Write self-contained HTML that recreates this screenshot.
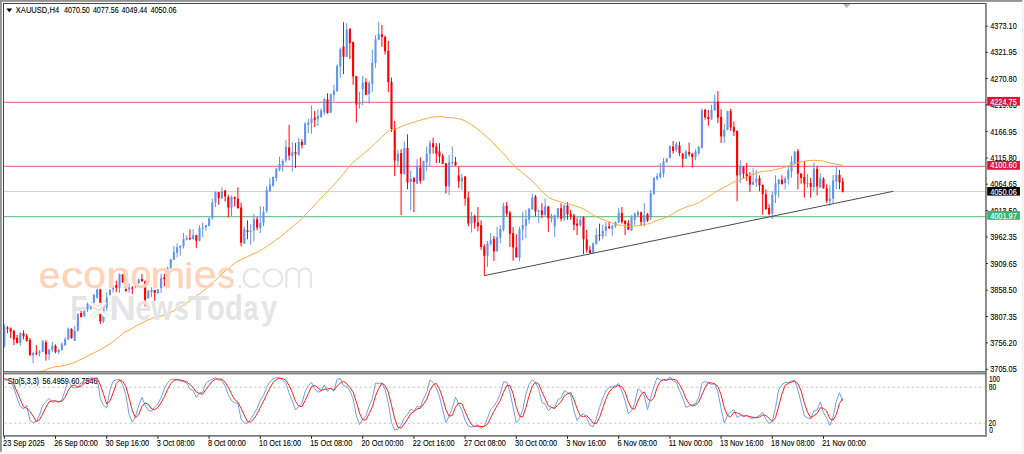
<!DOCTYPE html>
<html><head><meta charset="utf-8"><title>XAUUSD,H4</title>
<style>
html,body{margin:0;padding:0;background:#fff;}
body{width:1024px;height:454px;overflow:hidden;position:relative;font-family:"Liberation Sans",sans-serif;}
svg{position:absolute;left:0;top:0;}
text{font-family:"Liberation Sans",sans-serif;}
</style></head><body>
<svg width="1024" height="454" viewBox="0 0 1024 454">
<rect x="0" y="0" width="1024" height="454" fill="#fff"/>
<!-- window frame -->
<rect x="0" y="0" width="1022.5" height="1.9" fill="#949494"/>
<rect x="0" y="0" width="1.9" height="452.4" fill="#949494"/>
<rect x="1022.2" y="0" width="1.1" height="452.7" fill="#ebebeb"/>
<rect x="0" y="451.7" width="1023.3" height="1" fill="#eeeeee"/>
<defs>
<clipPath id="mainclip"><rect x="3.5" y="3.5" width="982" height="368"/></clipPath>
<clipPath id="subclip"><rect x="3.5" y="374" width="982" height="61.5"/></clipPath>
</defs>
<g clip-path="url(#mainclip)">
<line x1="3.5" y1="102.3" x2="985.5" y2="102.3" stroke="#ea7b92" stroke-width="1.25"/>
<line x1="3.5" y1="166.3" x2="985.5" y2="166.3" stroke="#ea7b92" stroke-width="1.25"/>
<line x1="3.5" y1="216.6" x2="985.5" y2="216.6" stroke="#72c592" stroke-width="1.25"/>
<line x1="3.5" y1="191.5" x2="985.5" y2="191.5" stroke="#d2d2d2" stroke-width="1.1"/>
<rect x="3.8" y="323.95" width="1" height="23.95" fill="#6495ed"/>
<rect x="3.25" y="326.07" width="2.1" height="19.73" fill="#6495ed"/>
<rect x="7" y="326.07" width="1" height="7.05" fill="#ff0000"/>
<rect x="6.45" y="327.48" width="2.1" height="1.41" fill="#ff0000"/>
<rect x="10.2" y="327.48" width="1" height="10.57" fill="#ff0000"/>
<rect x="9.65" y="328.6" width="2.1" height="3.1" fill="#ff0000"/>
<rect x="13.4" y="329.59" width="1" height="15.5" fill="#ff0000"/>
<rect x="12.85" y="331" width="2.1" height="8.45" fill="#ff0000"/>
<rect x="16.6" y="334.94" width="1" height="8.74" fill="#ff0000"/>
<rect x="16.05" y="337.76" width="2.1" height="5.21" fill="#ff0000"/>
<rect x="19.8" y="332.13" width="1" height="13.67" fill="#6495ed"/>
<rect x="19.25" y="333.11" width="2.1" height="9.86" fill="#6495ed"/>
<rect x="23" y="330.29" width="1" height="9.16" fill="#ff0000"/>
<rect x="22.45" y="333.11" width="2.1" height="3.24" fill="#ff0000"/>
<rect x="26.2" y="333.82" width="1" height="7.75" fill="#ff0000"/>
<rect x="25.65" y="335.93" width="2.1" height="4.93" fill="#ff0000"/>
<rect x="29.4" y="338.04" width="1" height="17.61" fill="#ff0000"/>
<rect x="28.85" y="339.88" width="2.1" height="15.36" fill="#ff0000"/>
<rect x="32.6" y="352.13" width="1" height="11.27" fill="#6495ed"/>
<rect x="32.05" y="352.84" width="2.1" height="2.4" fill="#6495ed"/>
<rect x="35.8" y="345.09" width="1" height="10.15" fill="#ff0000"/>
<rect x="35.25" y="352.84" width="2.1" height="0.99" fill="#ff0000"/>
<rect x="39" y="350.02" width="1" height="6.34" fill="#6495ed"/>
<rect x="38.45" y="351.43" width="2.1" height="2.11" fill="#6495ed"/>
<rect x="42.2" y="340.16" width="1" height="11.98" fill="#6495ed"/>
<rect x="41.65" y="341.29" width="2.1" height="10.57" fill="#6495ed"/>
<rect x="45.4" y="340.16" width="1" height="20.43" fill="#ff0000"/>
<rect x="44.85" y="342.27" width="2.1" height="11.98" fill="#ff0000"/>
<rect x="48.6" y="348.61" width="1" height="11.27" fill="#6495ed"/>
<rect x="48.05" y="349.6" width="2.1" height="4.65" fill="#6495ed"/>
<rect x="51.8" y="341.99" width="1" height="10.15" fill="#6495ed"/>
<rect x="51.25" y="345.79" width="2.1" height="4.23" fill="#6495ed"/>
<rect x="55" y="344.38" width="1" height="8.88" fill="#ff0000"/>
<rect x="54.45" y="345.79" width="2.1" height="6.34" fill="#ff0000"/>
<rect x="58.2" y="348.61" width="1" height="5.64" fill="#6495ed"/>
<rect x="57.65" y="350.02" width="2.1" height="2.11" fill="#6495ed"/>
<rect x="61.4" y="342.27" width="1" height="8.45" fill="#6495ed"/>
<rect x="60.85" y="344.38" width="2.1" height="5.64" fill="#6495ed"/>
<rect x="64.6" y="337.34" width="1" height="8.45" fill="#6495ed"/>
<rect x="64.05" y="339.17" width="2.1" height="6.2" fill="#6495ed"/>
<rect x="67.8" y="327.48" width="1" height="12.68" fill="#6495ed"/>
<rect x="67.25" y="328.89" width="2.1" height="10.57" fill="#6495ed"/>
<rect x="71" y="328.18" width="1" height="10.57" fill="#ff0000"/>
<rect x="70.45" y="328.89" width="2.1" height="9.16" fill="#ff0000"/>
<rect x="74.2" y="325.9" width="1" height="14.9" fill="#6495ed"/>
<rect x="73.65" y="330.9" width="2.1" height="9.9" fill="#6495ed"/>
<rect x="77.4" y="313.08" width="1" height="18.72" fill="#6495ed"/>
<rect x="76.85" y="314.19" width="2.1" height="16.52" fill="#6495ed"/>
<rect x="80.6" y="310.88" width="1" height="6.61" fill="#ff0000"/>
<rect x="80.05" y="313.08" width="2.1" height="3.85" fill="#ff0000"/>
<rect x="83.8" y="309.78" width="1" height="7.16" fill="#6495ed"/>
<rect x="83.25" y="310.88" width="2.1" height="5.51" fill="#6495ed"/>
<rect x="87" y="302.62" width="1" height="9.36" fill="#6495ed"/>
<rect x="86.45" y="303.72" width="2.1" height="6.06" fill="#6495ed"/>
<rect x="90.2" y="304.27" width="1" height="5.51" fill="#6495ed"/>
<rect x="89.65" y="305.37" width="2.1" height="3.3" fill="#6495ed"/>
<rect x="93.4" y="293.81" width="1" height="9.91" fill="#6495ed"/>
<rect x="92.85" y="294.91" width="2.1" height="7.71" fill="#6495ed"/>
<rect x="96.6" y="288.85" width="1" height="9.91" fill="#6495ed"/>
<rect x="96.05" y="289.41" width="2.1" height="8.26" fill="#6495ed"/>
<rect x="99.8" y="288.85" width="1" height="35.24" fill="#ff0000"/>
<rect x="99.25" y="289.41" width="2.1" height="31.94" fill="#ff0000"/>
<rect x="103" y="304.34" width="1" height="18.61" fill="#6495ed"/>
<rect x="102.45" y="305.44" width="2.1" height="15.53" fill="#6495ed"/>
<rect x="106.2" y="292.23" width="1" height="18.72" fill="#6495ed"/>
<rect x="105.65" y="297.74" width="2.1" height="9.91" fill="#6495ed"/>
<rect x="109.4" y="288.93" width="1" height="6.61" fill="#6495ed"/>
<rect x="108.85" y="290.03" width="2.1" height="4.96" fill="#6495ed"/>
<rect x="112.6" y="285.07" width="1" height="7.71" fill="#6495ed"/>
<rect x="112.05" y="286.17" width="2.1" height="3.3" fill="#6495ed"/>
<rect x="115.8" y="280.67" width="1" height="11.56" fill="#ff0000"/>
<rect x="115.25" y="285.07" width="2.1" height="2.75" fill="#ff0000"/>
<rect x="119" y="273.51" width="1" height="19.27" fill="#6495ed"/>
<rect x="118.45" y="274.06" width="2.1" height="13.77" fill="#6495ed"/>
<rect x="122.2" y="274.06" width="1" height="8.81" fill="#ff0000"/>
<rect x="121.65" y="274.61" width="2.1" height="7.71" fill="#ff0000"/>
<rect x="125.4" y="288.37" width="1" height="3.85" fill="#ff0000"/>
<rect x="124.85" y="288.93" width="2.1" height="1.65" fill="#ff0000"/>
<rect x="128.6" y="283.42" width="1" height="9.36" fill="#6495ed"/>
<rect x="128.05" y="287.27" width="2.1" height="2.2" fill="#6495ed"/>
<rect x="131.8" y="286.17" width="1" height="7.71" fill="#ff0000"/>
<rect x="131.25" y="287.6" width="2.1" height="1.1" fill="#ff0000"/>
<rect x="135" y="285.62" width="1" height="2.2" fill="#6495ed"/>
<rect x="134.45" y="286.17" width="2.1" height="1.1" fill="#6495ed"/>
<rect x="138.2" y="278.46" width="1" height="5.18" fill="#6495ed"/>
<rect x="137.65" y="279.56" width="2.1" height="3.85" fill="#6495ed"/>
<rect x="141.4" y="274.06" width="1" height="7.71" fill="#ff0000"/>
<rect x="140.85" y="279.01" width="2.1" height="2.2" fill="#ff0000"/>
<rect x="144.6" y="280.53" width="1" height="25.92" fill="#ff0000"/>
<rect x="144.05" y="281.32" width="2.1" height="18.51" fill="#ff0000"/>
<rect x="147.8" y="289.92" width="1" height="8.6" fill="#6495ed"/>
<rect x="147.25" y="290.91" width="2.1" height="7.27" fill="#6495ed"/>
<rect x="151" y="287.27" width="1" height="9.59" fill="#6495ed"/>
<rect x="150.45" y="289.92" width="2.1" height="2.31" fill="#6495ed"/>
<rect x="154.2" y="289.92" width="1" height="10.91" fill="#ff0000"/>
<rect x="153.65" y="290.05" width="2.1" height="2.84" fill="#ff0000"/>
<rect x="157.4" y="288.93" width="1" height="5.29" fill="#6495ed"/>
<rect x="156.85" y="289.26" width="2.1" height="3.64" fill="#6495ed"/>
<rect x="160.6" y="273.68" width="1" height="19.27" fill="#6495ed"/>
<rect x="160.05" y="278.08" width="2.1" height="9.91" fill="#6495ed"/>
<rect x="163.8" y="273.68" width="1" height="12.67" fill="#ff0000"/>
<rect x="163.25" y="277.53" width="2.1" height="1.65" fill="#ff0000"/>
<rect x="167" y="266.52" width="1" height="12.11" fill="#6495ed"/>
<rect x="166.45" y="268.17" width="2.1" height="9.36" fill="#6495ed"/>
<rect x="170.2" y="258.81" width="1" height="9.91" fill="#6495ed"/>
<rect x="169.65" y="259.36" width="2.1" height="8.81" fill="#6495ed"/>
<rect x="173.4" y="245.9" width="1" height="14.02" fill="#6495ed"/>
<rect x="172.85" y="251.85" width="2.1" height="7.93" fill="#6495ed"/>
<rect x="176.6" y="243.26" width="1" height="14.21" fill="#6495ed"/>
<rect x="176.05" y="247.22" width="2.1" height="5.62" fill="#6495ed"/>
<rect x="179.8" y="245.24" width="1" height="10.58" fill="#6495ed"/>
<rect x="179.25" y="245.9" width="2.1" height="1.98" fill="#6495ed"/>
<rect x="183" y="233.04" width="1" height="15.42" fill="#6495ed"/>
<rect x="182.45" y="239.1" width="2.1" height="7.16" fill="#6495ed"/>
<rect x="186.2" y="235.79" width="1" height="4.74" fill="#6495ed"/>
<rect x="185.65" y="238" width="2.1" height="1.65" fill="#6495ed"/>
<rect x="189.4" y="229.19" width="1" height="11.01" fill="#ff0000"/>
<rect x="188.85" y="238" width="2.1" height="1.1" fill="#ff0000"/>
<rect x="192.6" y="229.19" width="1" height="10.46" fill="#6495ed"/>
<rect x="192.05" y="235.24" width="2.1" height="3.85" fill="#6495ed"/>
<rect x="195.8" y="234.69" width="1" height="13.22" fill="#ff0000"/>
<rect x="195.25" y="235.24" width="2.1" height="5.51" fill="#ff0000"/>
<rect x="199" y="225.33" width="1" height="15.97" fill="#6495ed"/>
<rect x="198.45" y="228.08" width="2.1" height="12.67" fill="#6495ed"/>
<rect x="202.2" y="222.58" width="1" height="14.87" fill="#6495ed"/>
<rect x="201.65" y="227.53" width="2.1" height="1.1" fill="#6495ed"/>
<rect x="205.4" y="224.78" width="1" height="6.06" fill="#6495ed"/>
<rect x="204.85" y="225.11" width="2.1" height="2.42" fill="#6495ed"/>
<rect x="208.6" y="217.62" width="1" height="8.81" fill="#6495ed"/>
<rect x="208.05" y="218.17" width="2.1" height="7.71" fill="#6495ed"/>
<rect x="211.8" y="198.72" width="1" height="20.93" fill="#6495ed"/>
<rect x="211.25" y="202.58" width="2.1" height="15.42" fill="#6495ed"/>
<rect x="215" y="191.56" width="1" height="15.42" fill="#6495ed"/>
<rect x="214.45" y="192.11" width="2.1" height="10.46" fill="#6495ed"/>
<rect x="218.2" y="192.11" width="1" height="12.67" fill="#ff0000"/>
<rect x="217.65" y="192.11" width="2.1" height="6.06" fill="#ff0000"/>
<rect x="221.4" y="187.16" width="1" height="12.11" fill="#6495ed"/>
<rect x="220.85" y="191.56" width="2.1" height="6.61" fill="#6495ed"/>
<rect x="224.6" y="189.91" width="1" height="11.56" fill="#ff0000"/>
<rect x="224.05" y="190.46" width="2.1" height="6.06" fill="#ff0000"/>
<rect x="227.8" y="194.87" width="1" height="22.58" fill="#ff0000"/>
<rect x="227.25" y="197.07" width="2.1" height="10.46" fill="#ff0000"/>
<rect x="231" y="195.42" width="1" height="20.93" fill="#6495ed"/>
<rect x="230.45" y="197.07" width="2.1" height="10.46" fill="#6495ed"/>
<rect x="234.2" y="196.52" width="1" height="9.91" fill="#ff0000"/>
<rect x="233.65" y="197.07" width="2.1" height="1.65" fill="#ff0000"/>
<rect x="237.4" y="187.16" width="1" height="21.48" fill="#ff0000"/>
<rect x="236.85" y="198.72" width="2.1" height="9.36" fill="#ff0000"/>
<rect x="240.6" y="202.71" width="1" height="43.72" fill="#ff0000"/>
<rect x="240.05" y="207.67" width="2.1" height="35.13" fill="#ff0000"/>
<rect x="243.8" y="226.39" width="1" height="17.62" fill="#6495ed"/>
<rect x="243.25" y="229.14" width="2.1" height="14.32" fill="#6495ed"/>
<rect x="247" y="220.33" width="1" height="18.83" fill="#ff0000"/>
<rect x="246.45" y="230.24" width="2.1" height="1.65" fill="#ff0000"/>
<rect x="250.2" y="224.19" width="1" height="20.48" fill="#6495ed"/>
<rect x="249.65" y="230.79" width="2.1" height="1.1" fill="#6495ed"/>
<rect x="253.4" y="213.72" width="1" height="27.53" fill="#6495ed"/>
<rect x="252.85" y="219.23" width="2.1" height="11.56" fill="#6495ed"/>
<rect x="256.6" y="217.03" width="1" height="13.22" fill="#ff0000"/>
<rect x="256.05" y="219.23" width="2.1" height="8.26" fill="#ff0000"/>
<rect x="259.8" y="206.01" width="1" height="26.98" fill="#6495ed"/>
<rect x="259.25" y="223.08" width="2.1" height="4.96" fill="#6495ed"/>
<rect x="263" y="206.56" width="1" height="19.82" fill="#6495ed"/>
<rect x="262.45" y="212.07" width="2.1" height="11.01" fill="#6495ed"/>
<rect x="266.2" y="186.3" width="1" height="26.87" fill="#6495ed"/>
<rect x="265.65" y="190.15" width="2.1" height="20.81" fill="#6495ed"/>
<rect x="269.4" y="178.04" width="1" height="13.44" fill="#6495ed"/>
<rect x="268.85" y="184.65" width="2.1" height="6.61" fill="#6495ed"/>
<rect x="272.6" y="176.39" width="1" height="10.46" fill="#6495ed"/>
<rect x="272.05" y="176.94" width="2.1" height="8.81" fill="#6495ed"/>
<rect x="275.8" y="168.13" width="1" height="13.22" fill="#6495ed"/>
<rect x="275.25" y="168.68" width="2.1" height="9.36" fill="#6495ed"/>
<rect x="279" y="156.56" width="1" height="14.87" fill="#6495ed"/>
<rect x="278.45" y="164.27" width="2.1" height="5.51" fill="#6495ed"/>
<rect x="282.2" y="159.32" width="1" height="12.11" fill="#6495ed"/>
<rect x="281.65" y="160.97" width="2.1" height="4.41" fill="#6495ed"/>
<rect x="285.4" y="140.2" width="1" height="22.4" fill="#6495ed"/>
<rect x="284.85" y="146.8" width="2.1" height="13.6" fill="#6495ed"/>
<rect x="288.6" y="124.8" width="1" height="35.6" fill="#ff0000"/>
<rect x="288.05" y="147.4" width="2.1" height="8.1" fill="#ff0000"/>
<rect x="291.8" y="142.4" width="1" height="29" fill="#6495ed"/>
<rect x="291.25" y="152.2" width="2.1" height="3.8" fill="#6495ed"/>
<rect x="295" y="143" width="1" height="25.1" fill="#ff0000"/>
<rect x="294.45" y="152.2" width="2.1" height="1.6" fill="#ff0000"/>
<rect x="298.2" y="138" width="1" height="17.5" fill="#6495ed"/>
<rect x="297.65" y="141.9" width="2.1" height="13" fill="#6495ed"/>
<rect x="301.4" y="139.1" width="1" height="9.4" fill="#ff0000"/>
<rect x="300.85" y="141.9" width="2.1" height="3.3" fill="#ff0000"/>
<rect x="304.6" y="122.03" width="1" height="23.13" fill="#6495ed"/>
<rect x="304.05" y="123.68" width="2.1" height="20.93" fill="#6495ed"/>
<rect x="307.8" y="118.72" width="1" height="14.32" fill="#6495ed"/>
<rect x="307.25" y="122.58" width="2.1" height="2.2" fill="#6495ed"/>
<rect x="311" y="105.51" width="1" height="28.08" fill="#6495ed"/>
<rect x="310.45" y="118.72" width="2.1" height="4.41" fill="#6495ed"/>
<rect x="314.2" y="111.01" width="1" height="15.97" fill="#ff0000"/>
<rect x="313.65" y="117.62" width="2.1" height="2.2" fill="#ff0000"/>
<rect x="317.4" y="109.36" width="1" height="16.52" fill="#6495ed"/>
<rect x="316.85" y="115.97" width="2.1" height="3.3" fill="#6495ed"/>
<rect x="320.6" y="108.26" width="1" height="9.36" fill="#6495ed"/>
<rect x="320.05" y="110.46" width="2.1" height="6.61" fill="#6495ed"/>
<rect x="323.8" y="97.67" width="1" height="17.07" fill="#6495ed"/>
<rect x="323.25" y="99.32" width="2.1" height="13.22" fill="#6495ed"/>
<rect x="327" y="93.26" width="1" height="20.37" fill="#ff0000"/>
<rect x="326.45" y="99.32" width="2.1" height="13.77" fill="#ff0000"/>
<rect x="330.2" y="93.26" width="1" height="19.82" fill="#6495ed"/>
<rect x="329.65" y="94.36" width="2.1" height="18.17" fill="#6495ed"/>
<rect x="333.4" y="84.67" width="1" height="16.3" fill="#6495ed"/>
<rect x="332.85" y="90.51" width="2.1" height="4.41" fill="#6495ed"/>
<rect x="336.6" y="64.32" width="1" height="27.53" fill="#6495ed"/>
<rect x="336.05" y="65.97" width="2.1" height="25.33" fill="#6495ed"/>
<rect x="339.8" y="47.49" width="1" height="30.07" fill="#6495ed"/>
<rect x="339.25" y="49.14" width="2.1" height="17.4" fill="#6495ed"/>
<rect x="343" y="22.16" width="1" height="51.87" fill="#ff0000"/>
<rect x="342.45" y="46.39" width="2.1" height="10.46" fill="#ff0000"/>
<rect x="346.2" y="23.26" width="1" height="33.59" fill="#6495ed"/>
<rect x="345.65" y="29.87" width="2.1" height="26.98" fill="#6495ed"/>
<rect x="349.4" y="28.22" width="1" height="30.84" fill="#ff0000"/>
<rect x="348.85" y="28.77" width="2.1" height="14.32" fill="#ff0000"/>
<rect x="352.6" y="41.5" width="1" height="43.2" fill="#ff0000"/>
<rect x="352.05" y="42" width="2.1" height="34.4" fill="#ff0000"/>
<rect x="355.8" y="75.9" width="1" height="46.6" fill="#ff0000"/>
<rect x="355.25" y="76.2" width="2.1" height="28.3" fill="#ff0000"/>
<rect x="359" y="91.9" width="1" height="16.8" fill="#6495ed"/>
<rect x="358.45" y="102.4" width="2.1" height="2.2" fill="#6495ed"/>
<rect x="362.2" y="76" width="1" height="29.2" fill="#6495ed"/>
<rect x="361.65" y="82.6" width="2.1" height="6.6" fill="#6495ed"/>
<rect x="365.4" y="78.2" width="1" height="17" fill="#ff0000"/>
<rect x="364.85" y="82" width="2.1" height="12.7" fill="#ff0000"/>
<rect x="368.6" y="80.9" width="1" height="22.6" fill="#6495ed"/>
<rect x="368.05" y="83.1" width="2.1" height="11" fill="#6495ed"/>
<rect x="371.8" y="49.7" width="1" height="42.2" fill="#6495ed"/>
<rect x="371.25" y="62.8" width="2.1" height="20.9" fill="#6495ed"/>
<rect x="375" y="35.4" width="1" height="32.3" fill="#6495ed"/>
<rect x="374.45" y="39.2" width="2.1" height="23.7" fill="#6495ed"/>
<rect x="378.2" y="21.6" width="1" height="18.7" fill="#6495ed"/>
<rect x="377.65" y="34.3" width="2.1" height="5.5" fill="#6495ed"/>
<rect x="381.4" y="24.9" width="1" height="22" fill="#ff0000"/>
<rect x="380.85" y="34.3" width="2.1" height="2.7" fill="#ff0000"/>
<rect x="384.6" y="35.4" width="1" height="19.2" fill="#ff0000"/>
<rect x="384.05" y="37" width="2.1" height="14.3" fill="#ff0000"/>
<rect x="387.8" y="40.9" width="1" height="51" fill="#ff0000"/>
<rect x="387.25" y="50.8" width="2.1" height="31.2" fill="#ff0000"/>
<rect x="391" y="77.6" width="1" height="54.4" fill="#ff0000"/>
<rect x="390.45" y="82" width="2.1" height="47" fill="#ff0000"/>
<rect x="394.2" y="120.9" width="1" height="55.1" fill="#ff0000"/>
<rect x="393.65" y="128.3" width="2.1" height="32.2" fill="#ff0000"/>
<rect x="397.4" y="149.7" width="1" height="16.6" fill="#6495ed"/>
<rect x="396.85" y="153.6" width="2.1" height="7.1" fill="#6495ed"/>
<rect x="400.6" y="149.2" width="1" height="65.8" fill="#ff0000"/>
<rect x="400.05" y="153" width="2.1" height="20.8" fill="#ff0000"/>
<rect x="403.8" y="141.5" width="1" height="33.5" fill="#6495ed"/>
<rect x="403.25" y="148.1" width="2.1" height="25.7" fill="#6495ed"/>
<rect x="407" y="134.3" width="1" height="54.9" fill="#ff0000"/>
<rect x="406.45" y="148.1" width="2.1" height="34.5" fill="#ff0000"/>
<rect x="410.2" y="170.5" width="1" height="39.9" fill="#6495ed"/>
<rect x="409.65" y="178.7" width="2.1" height="3.3" fill="#6495ed"/>
<rect x="413.4" y="177" width="1" height="35" fill="#ff0000"/>
<rect x="412.85" y="178.2" width="2.1" height="3.8" fill="#ff0000"/>
<rect x="416.6" y="159.1" width="1" height="24.6" fill="#6495ed"/>
<rect x="416.05" y="166.6" width="2.1" height="17.1" fill="#6495ed"/>
<rect x="419.8" y="157.4" width="1" height="26.3" fill="#ff0000"/>
<rect x="419.25" y="167.7" width="2.1" height="13.2" fill="#ff0000"/>
<rect x="423" y="160.7" width="1" height="19.7" fill="#6495ed"/>
<rect x="422.45" y="161.1" width="2.1" height="19.3" fill="#6495ed"/>
<rect x="426.2" y="146.5" width="1" height="24.8" fill="#6495ed"/>
<rect x="425.65" y="153.7" width="2.1" height="8.3" fill="#6495ed"/>
<rect x="429.4" y="140.5" width="1" height="25.8" fill="#6495ed"/>
<rect x="428.85" y="143.2" width="2.1" height="10.5" fill="#6495ed"/>
<rect x="432.6" y="137.7" width="1" height="16" fill="#ff0000"/>
<rect x="432.05" y="143.2" width="2.1" height="3.9" fill="#ff0000"/>
<rect x="435.8" y="143.2" width="1" height="19.8" fill="#ff0000"/>
<rect x="435.25" y="146.5" width="2.1" height="7.2" fill="#ff0000"/>
<rect x="439" y="143.2" width="1" height="19.8" fill="#ff0000"/>
<rect x="438.45" y="151.5" width="2.1" height="4.9" fill="#ff0000"/>
<rect x="442.2" y="153.7" width="1" height="10.4" fill="#ff0000"/>
<rect x="441.65" y="155.9" width="2.1" height="7.7" fill="#ff0000"/>
<rect x="445.4" y="163" width="1" height="30.6" fill="#ff0000"/>
<rect x="444.85" y="163.3" width="2.1" height="23.1" fill="#ff0000"/>
<rect x="448.6" y="154.8" width="1" height="40.4" fill="#6495ed"/>
<rect x="448.05" y="162.2" width="2.1" height="24.2" fill="#6495ed"/>
<rect x="451.8" y="146.5" width="1" height="18.7" fill="#6495ed"/>
<rect x="451.25" y="161.9" width="2.1" height="1.1" fill="#6495ed"/>
<rect x="455" y="157" width="1" height="8.8" fill="#ff0000"/>
<rect x="454.45" y="161.9" width="2.1" height="3.3" fill="#ff0000"/>
<rect x="458.2" y="166.6" width="1" height="21.5" fill="#ff0000"/>
<rect x="457.65" y="175.4" width="2.1" height="6.1" fill="#ff0000"/>
<rect x="461.4" y="173.8" width="1" height="16.5" fill="#6495ed"/>
<rect x="460.85" y="177.6" width="2.1" height="3.9" fill="#6495ed"/>
<rect x="464.6" y="176" width="1" height="29.7" fill="#ff0000"/>
<rect x="464.05" y="176.5" width="2.1" height="22" fill="#ff0000"/>
<rect x="467.8" y="191.7" width="1" height="34.6" fill="#ff0000"/>
<rect x="467.25" y="197.7" width="2.1" height="25.9" fill="#ff0000"/>
<rect x="471" y="212" width="1" height="20.4" fill="#6495ed"/>
<rect x="470.45" y="216.4" width="2.1" height="7.2" fill="#6495ed"/>
<rect x="474.2" y="214.8" width="1" height="13.7" fill="#ff0000"/>
<rect x="473.65" y="216.4" width="2.1" height="6.1" fill="#ff0000"/>
<rect x="477.4" y="207.1" width="1" height="24.2" fill="#ff0000"/>
<rect x="476.85" y="222.5" width="2.1" height="3.8" fill="#ff0000"/>
<rect x="480.6" y="220.3" width="1" height="29.5" fill="#ff0000"/>
<rect x="480.05" y="225.2" width="2.1" height="21.8" fill="#ff0000"/>
<rect x="483.8" y="244.3" width="1" height="31.5" fill="#ff0000"/>
<rect x="483.25" y="246.5" width="2.1" height="9.3" fill="#ff0000"/>
<rect x="487" y="241" width="1" height="25.6" fill="#6495ed"/>
<rect x="486.45" y="243.2" width="2.1" height="12.6" fill="#6495ed"/>
<rect x="490.2" y="233" width="1" height="12.9" fill="#6495ed"/>
<rect x="489.65" y="240.4" width="2.1" height="3.3" fill="#6495ed"/>
<rect x="493.4" y="236" width="1" height="25" fill="#ff0000"/>
<rect x="492.85" y="238.8" width="2.1" height="12.6" fill="#ff0000"/>
<rect x="496.6" y="226.7" width="1" height="24.7" fill="#6495ed"/>
<rect x="496.05" y="237.1" width="2.1" height="14.3" fill="#6495ed"/>
<rect x="499.8" y="225.2" width="1" height="18" fill="#6495ed"/>
<rect x="499.25" y="228.9" width="2.1" height="8.8" fill="#6495ed"/>
<rect x="503" y="202.7" width="1" height="28.6" fill="#6495ed"/>
<rect x="502.45" y="206" width="2.1" height="23.6" fill="#6495ed"/>
<rect x="506.2" y="202.1" width="1" height="14.3" fill="#ff0000"/>
<rect x="505.65" y="206" width="2.1" height="7.7" fill="#ff0000"/>
<rect x="509.4" y="210.9" width="1" height="36.1" fill="#ff0000"/>
<rect x="508.85" y="212.6" width="2.1" height="21.2" fill="#ff0000"/>
<rect x="512.6" y="227.2" width="1" height="33.5" fill="#ff0000"/>
<rect x="512.05" y="233.2" width="2.1" height="14.3" fill="#ff0000"/>
<rect x="515.8" y="234.3" width="1" height="23.1" fill="#ff0000"/>
<rect x="515.25" y="247.5" width="2.1" height="9.9" fill="#ff0000"/>
<rect x="519" y="226.6" width="1" height="34.7" fill="#6495ed"/>
<rect x="518.45" y="229.4" width="2.1" height="28.6" fill="#6495ed"/>
<rect x="522.2" y="211.5" width="1" height="28.9" fill="#6495ed"/>
<rect x="521.65" y="225" width="2.1" height="4.4" fill="#6495ed"/>
<rect x="525.4" y="209.8" width="1" height="28.4" fill="#6495ed"/>
<rect x="524.85" y="219.2" width="2.1" height="6.6" fill="#6495ed"/>
<rect x="528.6" y="208.2" width="1" height="15.4" fill="#6495ed"/>
<rect x="528.05" y="208.7" width="2.1" height="11" fill="#6495ed"/>
<rect x="531.8" y="193.9" width="1" height="15.9" fill="#6495ed"/>
<rect x="531.25" y="197.7" width="2.1" height="11.6" fill="#6495ed"/>
<rect x="535" y="195" width="1" height="21.4" fill="#ff0000"/>
<rect x="534.45" y="196.6" width="2.1" height="14.9" fill="#ff0000"/>
<rect x="538.2" y="209.8" width="1" height="13.2" fill="#6495ed"/>
<rect x="537.65" y="210.4" width="2.1" height="1.1" fill="#6495ed"/>
<rect x="541.4" y="203.2" width="1" height="14.9" fill="#ff0000"/>
<rect x="540.85" y="210.4" width="2.1" height="4.4" fill="#ff0000"/>
<rect x="544.6" y="198.3" width="1" height="17.6" fill="#6495ed"/>
<rect x="544.05" y="206.5" width="2.1" height="8.3" fill="#6495ed"/>
<rect x="547.8" y="206.01" width="1" height="25.88" fill="#ff0000"/>
<rect x="547.25" y="206.56" width="2.1" height="11.56" fill="#ff0000"/>
<rect x="551" y="213.72" width="1" height="8.81" fill="#6495ed"/>
<rect x="550.45" y="216.48" width="2.1" height="2.2" fill="#6495ed"/>
<rect x="554.2" y="214.82" width="1" height="22.03" fill="#6495ed"/>
<rect x="553.65" y="215.37" width="2.1" height="11.01" fill="#6495ed"/>
<rect x="557.4" y="208.22" width="1" height="11.01" fill="#6495ed"/>
<rect x="556.85" y="208.22" width="2.1" height="8.26" fill="#6495ed"/>
<rect x="560.6" y="203.26" width="1" height="18.17" fill="#ff0000"/>
<rect x="560.05" y="208.22" width="2.1" height="10.46" fill="#ff0000"/>
<rect x="563.8" y="204.36" width="1" height="16.52" fill="#6495ed"/>
<rect x="563.25" y="205.46" width="2.1" height="13.22" fill="#6495ed"/>
<rect x="567" y="202.16" width="1" height="17.62" fill="#ff0000"/>
<rect x="566.45" y="205.46" width="2.1" height="8.81" fill="#ff0000"/>
<rect x="570.2" y="209.87" width="1" height="9.91" fill="#ff0000"/>
<rect x="569.65" y="213.72" width="2.1" height="2.75" fill="#ff0000"/>
<rect x="573.4" y="213.72" width="1" height="16.52" fill="#ff0000"/>
<rect x="572.85" y="215.37" width="2.1" height="9.36" fill="#ff0000"/>
<rect x="576.6" y="217.58" width="1" height="17.62" fill="#ff0000"/>
<rect x="576.05" y="223.63" width="2.1" height="2.2" fill="#ff0000"/>
<rect x="579.8" y="216.48" width="1" height="10.46" fill="#6495ed"/>
<rect x="579.25" y="219.78" width="2.1" height="5.51" fill="#6495ed"/>
<rect x="583" y="216.5" width="1" height="37.7" fill="#ff0000"/>
<rect x="582.45" y="217.1" width="2.1" height="22.3" fill="#ff0000"/>
<rect x="586.2" y="229.7" width="1" height="22.9" fill="#ff0000"/>
<rect x="585.65" y="239.4" width="2.1" height="10.4" fill="#ff0000"/>
<rect x="589.4" y="245.7" width="1" height="8" fill="#ff0000"/>
<rect x="588.85" y="249.8" width="2.1" height="3.3" fill="#ff0000"/>
<rect x="592.6" y="242.7" width="1" height="11" fill="#6495ed"/>
<rect x="592.05" y="243.2" width="2.1" height="9.4" fill="#6495ed"/>
<rect x="595.8" y="228.1" width="1" height="16.5" fill="#6495ed"/>
<rect x="595.25" y="235" width="2.1" height="8.8" fill="#6495ed"/>
<rect x="599" y="223.68" width="1" height="17.07" fill="#ff0000"/>
<rect x="598.45" y="234.69" width="2.1" height="1.1" fill="#ff0000"/>
<rect x="602.2" y="224.78" width="1" height="14.32" fill="#6495ed"/>
<rect x="601.65" y="230.84" width="2.1" height="5.51" fill="#6495ed"/>
<rect x="605.4" y="222.03" width="1" height="14.32" fill="#6495ed"/>
<rect x="604.85" y="226.43" width="2.1" height="4.41" fill="#6495ed"/>
<rect x="608.6" y="222.03" width="1" height="7.16" fill="#ff0000"/>
<rect x="608.05" y="226.43" width="2.1" height="1.65" fill="#ff0000"/>
<rect x="611.8" y="224.78" width="1" height="11.01" fill="#6495ed"/>
<rect x="611.25" y="225.88" width="2.1" height="2.75" fill="#6495ed"/>
<rect x="615" y="221.3" width="1" height="6.6" fill="#6495ed"/>
<rect x="614.45" y="221.9" width="2.1" height="4.4" fill="#6495ed"/>
<rect x="618.2" y="208.1" width="1" height="14.9" fill="#6495ed"/>
<rect x="617.65" y="213" width="2.1" height="9.4" fill="#6495ed"/>
<rect x="621.4" y="207" width="1" height="16.5" fill="#ff0000"/>
<rect x="620.85" y="213" width="2.1" height="8.9" fill="#ff0000"/>
<rect x="624.6" y="220.1" width="1" height="15" fill="#ff0000"/>
<rect x="624.05" y="221" width="2.1" height="3.1" fill="#ff0000"/>
<rect x="627.8" y="220.1" width="1" height="9.7" fill="#ff0000"/>
<rect x="627.25" y="223.2" width="2.1" height="6.6" fill="#ff0000"/>
<rect x="631" y="215.3" width="1" height="15.8" fill="#6495ed"/>
<rect x="630.45" y="217.5" width="2.1" height="13.2" fill="#6495ed"/>
<rect x="634.2" y="212.5" width="1" height="12.7" fill="#6495ed"/>
<rect x="633.65" y="213.6" width="2.1" height="6" fill="#6495ed"/>
<rect x="637.4" y="210.3" width="1" height="6" fill="#6495ed"/>
<rect x="636.85" y="211.9" width="2.1" height="3.3" fill="#6495ed"/>
<rect x="640.6" y="211.4" width="1" height="14.3" fill="#ff0000"/>
<rect x="640.05" y="212.5" width="2.1" height="9.4" fill="#ff0000"/>
<rect x="643.8" y="203.1" width="1" height="23.2" fill="#6495ed"/>
<rect x="643.25" y="215.2" width="2.1" height="7.2" fill="#6495ed"/>
<rect x="647" y="213" width="1" height="9" fill="#ff0000"/>
<rect x="646.45" y="214.1" width="2.1" height="6.6" fill="#ff0000"/>
<rect x="650.2" y="189.8" width="1" height="30.2" fill="#6495ed"/>
<rect x="649.65" y="193.1" width="2.1" height="24.3" fill="#6495ed"/>
<rect x="653.4" y="177.2" width="1" height="18.1" fill="#6495ed"/>
<rect x="652.85" y="177.7" width="2.1" height="16" fill="#6495ed"/>
<rect x="656.6" y="173.3" width="1" height="7.2" fill="#6495ed"/>
<rect x="656.05" y="176" width="2.1" height="2.8" fill="#6495ed"/>
<rect x="659.8" y="163.04" width="1" height="15.42" fill="#6495ed"/>
<rect x="659.25" y="172.95" width="2.1" height="3.85" fill="#6495ed"/>
<rect x="663" y="158.08" width="1" height="19.27" fill="#6495ed"/>
<rect x="662.45" y="161.39" width="2.1" height="12.11" fill="#6495ed"/>
<rect x="666.2" y="158.08" width="1" height="4.96" fill="#6495ed"/>
<rect x="665.65" y="158.63" width="2.1" height="3.3" fill="#6495ed"/>
<rect x="669.4" y="145.42" width="1" height="12.67" fill="#6495ed"/>
<rect x="668.85" y="145.97" width="2.1" height="12.11" fill="#6495ed"/>
<rect x="672.6" y="141.01" width="1" height="12.67" fill="#ff0000"/>
<rect x="672.05" y="146.52" width="2.1" height="4.41" fill="#ff0000"/>
<rect x="675.8" y="142.11" width="1" height="9.91" fill="#6495ed"/>
<rect x="675.25" y="143.77" width="2.1" height="6.06" fill="#6495ed"/>
<rect x="679" y="141.56" width="1" height="14.32" fill="#ff0000"/>
<rect x="678.45" y="145.42" width="2.1" height="7.71" fill="#ff0000"/>
<rect x="682.2" y="153.13" width="1" height="14.32" fill="#ff0000"/>
<rect x="681.65" y="153.68" width="2.1" height="4.96" fill="#ff0000"/>
<rect x="685.4" y="149.82" width="1" height="9.36" fill="#6495ed"/>
<rect x="684.85" y="151.48" width="2.1" height="7.16" fill="#6495ed"/>
<rect x="688.6" y="142.67" width="1" height="13.77" fill="#ff0000"/>
<rect x="688.05" y="152.03" width="2.1" height="2.2" fill="#ff0000"/>
<rect x="691.8" y="153.13" width="1" height="14.32" fill="#ff0000"/>
<rect x="691.25" y="153.68" width="2.1" height="3.3" fill="#ff0000"/>
<rect x="695" y="149.27" width="1" height="11.01" fill="#6495ed"/>
<rect x="694.45" y="151.48" width="2.1" height="5.51" fill="#6495ed"/>
<rect x="698.2" y="145.8" width="1" height="9.4" fill="#6495ed"/>
<rect x="697.65" y="146.9" width="2.1" height="6.1" fill="#6495ed"/>
<rect x="701.4" y="108.1" width="1" height="40.4" fill="#6495ed"/>
<rect x="700.85" y="110.3" width="2.1" height="37.7" fill="#6495ed"/>
<rect x="704.6" y="108.7" width="1" height="11" fill="#ff0000"/>
<rect x="704.05" y="109.8" width="2.1" height="7.7" fill="#ff0000"/>
<rect x="707.8" y="109.8" width="1" height="15.9" fill="#ff0000"/>
<rect x="707.25" y="116.9" width="2.1" height="2.2" fill="#ff0000"/>
<rect x="711" y="104.8" width="1" height="14.9" fill="#6495ed"/>
<rect x="710.45" y="109.8" width="2.1" height="9.7" fill="#6495ed"/>
<rect x="714.2" y="94.4" width="1" height="16.5" fill="#6495ed"/>
<rect x="713.65" y="101.5" width="2.1" height="8.8" fill="#6495ed"/>
<rect x="717.4" y="91.1" width="1" height="32" fill="#ff0000"/>
<rect x="716.85" y="101.5" width="2.1" height="16" fill="#ff0000"/>
<rect x="720.6" y="109.2" width="1" height="33.8" fill="#ff0000"/>
<rect x="720.05" y="116.9" width="2.1" height="19.5" fill="#ff0000"/>
<rect x="723.8" y="124.2" width="1" height="18.8" fill="#6495ed"/>
<rect x="723.25" y="129.8" width="2.1" height="6.6" fill="#6495ed"/>
<rect x="727" y="110.9" width="1" height="19.5" fill="#6495ed"/>
<rect x="726.45" y="111.1" width="2.1" height="18.7" fill="#6495ed"/>
<rect x="730.2" y="108.8" width="1" height="22.1" fill="#ff0000"/>
<rect x="729.65" y="111.1" width="2.1" height="16.5" fill="#ff0000"/>
<rect x="733.4" y="121.6" width="1" height="14.3" fill="#ff0000"/>
<rect x="732.85" y="127.1" width="2.1" height="4.4" fill="#ff0000"/>
<rect x="736.6" y="130.77" width="1" height="70.48" fill="#ff0000"/>
<rect x="736.05" y="130.77" width="2.1" height="44.6" fill="#ff0000"/>
<rect x="739.8" y="159.96" width="1" height="23.13" fill="#6495ed"/>
<rect x="739.25" y="166.56" width="2.1" height="8.81" fill="#6495ed"/>
<rect x="743" y="166.01" width="1" height="12.67" fill="#ff0000"/>
<rect x="742.45" y="167.11" width="2.1" height="6.61" fill="#ff0000"/>
<rect x="746.2" y="162.71" width="1" height="18.17" fill="#ff0000"/>
<rect x="745.65" y="173.72" width="2.1" height="2.75" fill="#ff0000"/>
<rect x="749.4" y="172.07" width="1" height="19.82" fill="#ff0000"/>
<rect x="748.85" y="175.37" width="2.1" height="9.36" fill="#ff0000"/>
<rect x="752.6" y="168.22" width="1" height="16.52" fill="#6495ed"/>
<rect x="752.05" y="181.98" width="2.1" height="2.75" fill="#6495ed"/>
<rect x="755.8" y="169.87" width="1" height="17.07" fill="#6495ed"/>
<rect x="755.25" y="178.68" width="2.1" height="3.3" fill="#6495ed"/>
<rect x="759" y="175.37" width="1" height="15.97" fill="#ff0000"/>
<rect x="758.45" y="178.13" width="2.1" height="7.16" fill="#ff0000"/>
<rect x="762.2" y="184.41" width="1" height="30.29" fill="#ff0000"/>
<rect x="761.65" y="184.96" width="2.1" height="9.36" fill="#ff0000"/>
<rect x="765.4" y="189.36" width="1" height="20.37" fill="#ff0000"/>
<rect x="764.85" y="194.32" width="2.1" height="14.87" fill="#ff0000"/>
<rect x="768.6" y="204.23" width="1" height="11.01" fill="#ff0000"/>
<rect x="768.05" y="208.08" width="2.1" height="6.06" fill="#ff0000"/>
<rect x="771.8" y="191.56" width="1" height="27.53" fill="#6495ed"/>
<rect x="771.25" y="194.87" width="2.1" height="18.72" fill="#6495ed"/>
<rect x="775" y="175.3" width="1" height="27.8" fill="#6495ed"/>
<rect x="774.45" y="183.4" width="2.1" height="11.5" fill="#6495ed"/>
<rect x="778.2" y="178.6" width="1" height="19" fill="#6495ed"/>
<rect x="777.65" y="179.7" width="2.1" height="4.4" fill="#6495ed"/>
<rect x="781.4" y="175.3" width="1" height="9.3" fill="#ff0000"/>
<rect x="780.85" y="179.7" width="2.1" height="4.4" fill="#ff0000"/>
<rect x="784.6" y="176.4" width="1" height="13.2" fill="#6495ed"/>
<rect x="784.05" y="178.6" width="2.1" height="4.4" fill="#6495ed"/>
<rect x="787.8" y="166.5" width="1" height="18.1" fill="#6495ed"/>
<rect x="787.25" y="170.3" width="2.1" height="8.3" fill="#6495ed"/>
<rect x="791" y="156" width="1" height="21.5" fill="#6495ed"/>
<rect x="790.45" y="161.5" width="2.1" height="9.9" fill="#6495ed"/>
<rect x="794.2" y="151.1" width="1" height="14.3" fill="#6495ed"/>
<rect x="793.65" y="151.6" width="2.1" height="11.6" fill="#6495ed"/>
<rect x="797.4" y="148.9" width="1" height="40.5" fill="#ff0000"/>
<rect x="796.85" y="151.1" width="2.1" height="22.5" fill="#ff0000"/>
<rect x="800.6" y="173.1" width="1" height="10.7" fill="#ff0000"/>
<rect x="800.05" y="173.6" width="2.1" height="4.4" fill="#ff0000"/>
<rect x="803.8" y="161" width="1" height="36.6" fill="#ff0000"/>
<rect x="803.25" y="176.9" width="2.1" height="6.6" fill="#ff0000"/>
<rect x="807" y="174.2" width="1" height="13.5" fill="#6495ed"/>
<rect x="806.45" y="183" width="2.1" height="0.9" fill="#6495ed"/>
<rect x="810.2" y="177.8" width="1" height="19.8" fill="#ff0000"/>
<rect x="809.65" y="183" width="2.1" height="3.9" fill="#ff0000"/>
<rect x="813.4" y="162.6" width="1" height="28.9" fill="#6495ed"/>
<rect x="812.85" y="168.7" width="2.1" height="18.4" fill="#6495ed"/>
<rect x="816.6" y="165.9" width="1" height="29.5" fill="#ff0000"/>
<rect x="816.05" y="168.7" width="2.1" height="17.9" fill="#ff0000"/>
<rect x="819.8" y="173.2" width="1" height="14.8" fill="#6495ed"/>
<rect x="819.25" y="178.1" width="2.1" height="9.4" fill="#6495ed"/>
<rect x="823" y="177.2" width="1" height="11.56" fill="#ff0000"/>
<rect x="822.45" y="178.85" width="2.1" height="9.36" fill="#ff0000"/>
<rect x="826.2" y="184.36" width="1" height="18.72" fill="#ff0000"/>
<rect x="825.65" y="188.22" width="2.1" height="12.67" fill="#ff0000"/>
<rect x="829.4" y="185.46" width="1" height="20.37" fill="#6495ed"/>
<rect x="828.85" y="198.68" width="2.1" height="2.2" fill="#6495ed"/>
<rect x="832.6" y="174.8" width="1" height="28.7" fill="#6495ed"/>
<rect x="832.05" y="180.3" width="2.1" height="18.2" fill="#6495ed"/>
<rect x="835.8" y="165.5" width="1" height="23.6" fill="#6495ed"/>
<rect x="835.25" y="174.8" width="2.1" height="6.6" fill="#6495ed"/>
<rect x="839" y="169.9" width="1" height="19.2" fill="#ff0000"/>
<rect x="838.45" y="174.8" width="2.1" height="7.7" fill="#ff0000"/>
<rect x="842.2" y="177.9" width="1" height="14.5" fill="#ff0000"/>
<rect x="841.65" y="181.5" width="2.1" height="10.5" fill="#ff0000"/>
<polyline points="38.3,371.4 43.7,371.1 47.8,368.8 53.8,367 59.7,366.4 65.7,364.9 74,362.8 79.9,359.8 89.5,355.1 101.3,349.1 110.9,343.2 119.2,336.6 125.1,331.9 130,329.8 136,325.9 147,320.4 158,316 161.1,316.04 164.3,315.1 167.5,313.89 170.7,312.44 173.9,310.69 177.1,308.77 180.3,307.03 183.5,305.08 186.7,303.03 189.9,300.7 193.1,298.35 196.3,296.09 199.5,293.62 202.7,291.35 205.9,288.77 209.1,286.14 212.3,283.27 215.5,280.07 218.7,277.04 221.9,273.98 225.1,271.13 228.3,268.7 231.5,265.88 234.7,263.24 237.9,261.11 241.1,259.63 244.3,258 247.5,256.56 250.7,255.07 253.9,253.55 257.1,252.32 260.3,250.35 263.5,248.48 266.7,246.33 269.9,244.22 273.1,242.04 276.3,239.66 279.5,237.46 282.7,235.03 285.9,232.16 289.1,229.52 292.3,226.79 295.5,224.15 298.7,221.39 301.9,218.67 305.1,215.15 308.3,211.78 311.5,208.36 314.7,204.9 317.9,201.43 321.1,198.08 324.3,194.48 327.5,191.38 330.7,188.08 333.9,184.85 337.1,181.23 340.3,177.29 343.5,173.65 346.7,169.48 349.9,165.56 353.1,162.39 356.3,159.66 359.5,157.15 362.7,154.25 365.9,151.64 369.1,148.94 372.3,146.15 375.5,143.09 378.7,139.81 381.9,136.72 385.1,133.81 388.3,131.3 391.5,129.94 394.7,129.18 397.9,128.09 401.1,126.71 404.3,125.09 407.5,124.1 410.7,123.06 413.9,122.31 417.1,121.1 420.3,120.25 423.5,119.23 426.7,118.5 429.9,117.68 433.1,117.08 436.3,116.78 439.5,116.62 442.7,116.67 445.9,117.47 449.1,117.6 452.3,117.79 455.5,118.02 458.7,118.81 461.9,119.46 465.1,120.96 468.3,122.98 471.5,124.93 474.7,126.99 477.9,129.19 481.1,131.92 484.3,135.05 487.5,137.66 490.7,140.58 493.9,143.79 497.1,147.22 500.3,150.81 503.5,153.8 506.7,157.47 509.9,161.29 513.1,164.71 516.3,167.77 519.5,170.31 522.7,173.15 525.9,175.64 529.1,178.16 532.3,180.85 535.5,184.3 538.7,187.82 541.9,191.38 545.1,194.48 548.3,197.2 551.5,198.95 554.7,200.05 557.9,201.14 561.1,202.04 564.3,203.19 567.5,203.82 570.7,204.58 573.9,205.43 577.1,206.62 580.3,207.39 583.5,208.96 586.7,210.88 589.9,213.08 593.1,215 596.3,216.63 599.5,218.22 602.7,219.56 605.9,220.36 609.1,221.68 612.3,222.96 615.5,224.09 618.7,224.72 621.9,225.61 625.1,226.12 628.3,226.25 631.5,226.27 634.7,226.09 637.9,225.8 641.1,225.3 644.3,224.49 647.5,224.04 650.7,223.09 653.9,221.62 657.1,220.4 660.3,219.28 663.5,218.38 666.7,217.28 669.9,215.53 673.1,213.59 676.3,211.32 679.5,209.8 682.7,208.47 685.9,207.11 689.1,206.03 692.3,205.21 695.5,204.01 698.7,202.74 701.9,200.65 705.1,198.87 708.3,196.89 711.5,194.76 714.7,192.48 717.9,190.66 721.1,189.02 724.3,187.51 727.5,185.44 730.7,183.66 733.9,181.8 737.1,180.79 740.3,179.73 743.5,178.41 746.7,176.95 749.9,175.58 753.1,174.35 756.3,173.23 759.5,172.22 762.7,171.49 765.9,171.14 769.1,170.86 772.3,170.24 775.5,169.47 778.7,168.81 781.9,168.05 785.1,167.14 788.3,165.95 791.5,164.83 794.7,163.59 797.9,162.83 801.1,161.95 804.3,161.31 807.5,160.56 810.7,160.44 813.9,160.26 817.1,160.47 820.3,160.57 823.5,161.11 826.7,161.95 829.9,163.01 833.1,163.59 836.3,164.21 839.5,164.8 842.7,165.47" fill="none" stroke="#ffa840" stroke-width="1"/>
<line x1="484.5" y1="275.6" x2="893.3" y2="191.3" stroke="#4a4a4a" stroke-width="1"/>
</g>
<g clip-path="url(#mainclip)">
<!-- watermark -->
<g>
<text transform="translate(38.75,288.3) scale(0.948,0.93)" font-size="40.7" font-weight="normal" fill="#fdd3b8" stroke="#fdd3b8" stroke-width="0.5" fill-opacity="0.97" stroke-opacity="0.97">e</text>
<text transform="translate(60.92,288.3) scale(1.079,0.93)" font-size="40.7" font-weight="normal" fill="#fdd3b8" stroke="#fdd3b8" stroke-width="0.5" fill-opacity="0.97" stroke-opacity="0.97">c</text>
<text transform="translate(83.20,288.3) scale(1.005,0.93)" font-size="40.7" font-weight="normal" fill="#fdd3b8" stroke="#fdd3b8" stroke-width="0.5" fill-opacity="0.97" stroke-opacity="0.97">o</text>
<text transform="translate(106.14,288.3) scale(1.079,0.93)" font-size="40.7" font-weight="normal" fill="#fdd3b8" stroke="#fdd3b8" stroke-width="0.5" fill-opacity="0.97" stroke-opacity="0.97">n</text>
<text transform="translate(130.57,288.3) scale(0.929,0.93)" font-size="40.7" font-weight="normal" fill="#fdd3b8" stroke="#fdd3b8" stroke-width="0.5" fill-opacity="0.97" stroke-opacity="0.97">o</text>
<text transform="translate(150.45,288.3) scale(1.023,0.93)" font-size="40.7" font-weight="normal" fill="#fdd3b8" stroke="#fdd3b8" stroke-width="0.5" fill-opacity="0.97" stroke-opacity="0.97">m</text>
<text transform="translate(193.80,288.3) scale(1.005,0.93)" font-size="40.7" font-weight="normal" fill="#fdd3b8" stroke="#fdd3b8" stroke-width="0.5" fill-opacity="0.97" stroke-opacity="0.97">e</text>
<text transform="translate(217.60,288.3) scale(0.850,0.93)" font-size="40.7" font-weight="normal" fill="#fdd3b8" stroke="#fdd3b8" stroke-width="0.5" fill-opacity="0.97" stroke-opacity="0.97">s</text>
<rect x="186.5" y="267.6" width="4.1" height="21.1" fill="#fdd3b8" fill-opacity="0.97"/>
<rect x="186.5" y="261.9" width="4.1" height="3.8" rx="1" fill="#fdd3b8" fill-opacity="0.97"/>
<g fill="none" stroke="#e3e3e3" stroke-width="2.1" stroke-opacity="0.95"><path d="M259.3,272.5 A8.6,9.2 0 1 0 259.3,283.3"/><ellipse cx="272.95" cy="277.95" rx="9.2" ry="8.7"/><path d="M286.4,287.7 V275.5 A5.6,5.8 0 0 1 298.9,274 V287.7 M298.9,274 A5.6,5.8 0 0 1 310.9,275.5 V287.7"/></g>
<circle cx="239.8" cy="286.2" r="1.5" fill="#e3e3e3"/>
<text transform="translate(70.14,320.3) scale(0.856,1.065)" font-size="32.6" font-weight="bold" fill="#e4e4e4" fill-opacity="0.96" stroke-opacity="0.96">F</text>
<text transform="translate(109.17,320.3) scale(1.133,1.065)" font-size="32.6" font-weight="bold" fill="#e4e4e4" fill-opacity="0.96" stroke-opacity="0.96">N</text>
<text transform="translate(135.44,320.3) scale(0.865,1.065)" font-size="32.6" font-weight="bold" fill="#e4e4e4" fill-opacity="0.96" stroke-opacity="0.96">e</text>
<text transform="translate(151.30,320.3) scale(0.846,1.065)" font-size="32.6" font-weight="bold" fill="#e4e4e4" fill-opacity="0.96" stroke-opacity="0.96">w</text>
<text transform="translate(174.08,320.3) scale(0.825,1.065)" font-size="32.6" font-weight="bold" fill="#e4e4e4" fill-opacity="0.96" stroke-opacity="0.96">s</text>
<text transform="translate(187.90,320.3) scale(1.050,1.065)" font-size="32.6" font-weight="bold" fill="#e4e4e4" fill-opacity="0.96" stroke-opacity="0.96">T</text>
<text transform="translate(207.11,320.3) scale(0.894,1.065)" font-size="32.6" font-weight="bold" fill="#e4e4e4" fill-opacity="0.96" stroke-opacity="0.96">o</text>
<text transform="translate(225.11,320.3) scale(0.894,1.065)" font-size="32.6" font-weight="bold" fill="#e4e4e4" fill-opacity="0.96" stroke-opacity="0.96">d</text>
<text transform="translate(243.60,320.3) scale(0.821,1.065)" font-size="32.6" font-weight="bold" fill="#e4e4e4" fill-opacity="0.96" stroke-opacity="0.96">a</text>
<text transform="translate(261.20,320.3) scale(0.867,1.065)" font-size="32.6" font-weight="bold" fill="#e4e4e4" fill-opacity="0.96" stroke-opacity="0.96">y</text>
<polygon points="93,303.2 104.5,302.6 102.3,313.8 97,313.8" fill="#fff"/>
<polyline points="91.3,318 99.7,310.4 107.5,317.4" fill="none" stroke="#d8ecd8" stroke-width="4.6"/>
<polyline points="91.3,318 99.7,310.4 107.5,317.4" fill="none" stroke="#fbfdfb" stroke-width="2.4"/>
<polyline points="89.9,303.3 98.4,308.6 105.6,302.2" fill="none" stroke="#f4d2d2" stroke-width="4.6"/>
<polyline points="89.9,303.3 98.4,308.6 105.6,302.2" fill="none" stroke="#fefafa" stroke-width="2.4"/>
</g>
</g>
<!-- chart borders -->
<line x1="3" y1="3.5" x2="986.5" y2="3.5" stroke="#444" stroke-width="1"/>
<line x1="3.5" y1="3" x2="3.5" y2="372.3" stroke="#444" stroke-width="1"/>
<line x1="3" y1="371.9" x2="986.5" y2="371.9" stroke="#4a4a4a" stroke-width="1.2"/>
<line x1="3" y1="373.8" x2="986.5" y2="373.8" stroke="#4a4a4a" stroke-width="1"/>
<line x1="3.5" y1="373.3" x2="3.5" y2="436.5" stroke="#444" stroke-width="1"/>
<line x1="3" y1="435.9" x2="986.8" y2="435.9" stroke="#7c7c7c" stroke-width="1.7"/>
<line x1="985.95" y1="3" x2="985.95" y2="436.5" stroke="#7a7a7a" stroke-width="1.7"/>
<!-- shift triangle -->
<path d="M843,4 L850.4,4 L846.7,8 Z" fill="#b4b4b4"/>
<!-- sub window -->
<g clip-path="url(#subclip)">
<line x1="4.5" y1="387.2" x2="985" y2="387.2" stroke="#c8c8c8" stroke-width="1" stroke-dasharray="2.4 2.4"/>
<line x1="4.5" y1="423.2" x2="985" y2="423.2" stroke="#c8c8c8" stroke-width="1" stroke-dasharray="2.4 2.4"/>
<text x="7.7" y="383.9" fill="#000" stroke="#000" stroke-width="0.1" font-size="8.2" text-anchor="start" textLength="31.3" lengthAdjust="spacingAndGlyphs">Sto(5,3,3)</text>
<text x="42.5" y="383.9" fill="#000" stroke="#000" stroke-width="0.1" font-size="8.2" text-anchor="start" textLength="26.25" lengthAdjust="spacingAndGlyphs">56.4959</text>
<text x="71.25" y="383.9" fill="#000" stroke="#000" stroke-width="0.1" font-size="8.2" text-anchor="start" textLength="26.25" lengthAdjust="spacingAndGlyphs">60.7546</text>
<polyline points="4.3,380 7.5,380.3 10.7,381 13.9,388 17.1,398 20.3,406.5 23.5,408.94 26.7,405.18 29.9,420.38 33.1,422.42 36.3,421.73 39.5,415.05 42.7,405.34 45.9,401.89 49.1,398.32 52.3,402.38 55.5,401.56 58.7,401.98 61.9,399.81 65.1,390.31 68.3,380.43 71.5,386.74 74.7,387.98 77.9,386.84 81.1,383.3 84.3,380.23 87.5,379.93 90.7,377.94 93.9,378.19 97.1,378.19 100.3,398.6 103.5,405.31 106.7,408.01 109.9,390.12 113.1,381.05 116.3,379.79 119.5,379.38 122.7,384.71 125.9,395.17 129.1,414.43 132.3,422.09 135.5,416.62 138.7,405.76 141.9,397.25 145.1,405.3 148.3,410.45 151.5,411.26 154.7,406.94 157.9,403.82 161.1,397.5 164.3,388.94 167.5,382.78 170.7,379.71 173.9,379.12 177.1,379.94 180.3,380.94 183.5,381.6 186.7,383.32 189.9,388.81 193.1,390.35 196.3,397.31 199.5,392.87 202.7,392.23 205.9,383.35 209.1,380.9 212.3,379.17 215.5,377.42 218.7,380.11 221.9,380.51 225.1,385.98 228.3,395.11 231.5,400.63 234.7,402.72 237.9,403.09 241.1,419.31 244.3,423.01 247.5,423.25 250.7,419.18 253.9,413.94 257.1,408.23 260.3,400.14 263.5,395.48 266.7,387.22 269.9,381.62 273.1,378.89 276.3,377.64 279.5,378 282.7,380.01 285.9,383.08 289.1,393.14 292.3,400.98 295.5,410.02 298.7,406.64 301.9,403.62 305.1,391.49 308.3,385.67 311.5,382.5 314.7,388.22 317.9,392.2 321.1,391.12 324.3,384.85 327.5,391.24 330.7,388.23 333.9,391.18 337.1,379.37 340.3,378.59 343.5,385.96 346.7,386.18 349.9,390.88 353.1,398.62 356.3,415.81 359.5,424.61 362.7,419.27 365.9,415.98 369.1,406.15 372.3,398.69 375.5,383.2 378.7,383.39 381.9,383.15 385.1,389.81 388.3,403.54 391.5,422.43 394.7,430.13 397.9,429.16 401.1,425.04 404.3,417.87 407.5,414.38 410.7,409.07 413.9,411.26 417.1,406.33 420.3,407.29 423.5,398.66 426.7,392.46 429.9,379.93 433.1,382.44 436.3,387.77 439.5,396.68 442.7,409.79 445.9,422.62 449.1,416.32 452.3,407.54 455.5,397.21 458.7,404.17 461.9,409.96 465.1,420.45 468.3,425.93 471.5,427.25 474.7,426.38 477.9,424.61 481.1,428.74 484.3,425.77 487.5,418.18 490.7,409.51 493.9,406.37 497.1,400.97 500.3,393.6 503.5,381.96 506.7,381.98 509.9,391.8 513.1,407.02 516.3,422.93 519.5,418.73 522.7,409.62 525.9,393.95 529.1,384.25 532.3,379.71 535.5,382.82 538.7,389.37 541.9,402.47 545.1,404.19 548.3,410.64 551.5,407.59 554.7,407.24 557.9,399.54 561.1,398.04 564.3,390.63 567.5,392.53 570.7,394.65 573.9,410.98 577.1,420.41 580.3,415.87 583.5,413.65 586.7,417.56 589.9,425.29 593.1,426.7 596.3,418.59 599.5,407.74 602.7,398.24 605.9,390.49 609.1,387.53 612.3,386.75 615.5,385.64 618.7,383.62 621.9,391.37 625.1,400.87 628.3,413.53 631.5,410.72 634.7,403.49 637.9,388.84 641.1,391.13 644.3,395.66 647.5,409.55 650.7,397.63 653.9,386.78 657.1,377.73 660.3,379.82 663.5,380.43 666.7,380.16 669.9,376.88 673.1,380.96 676.3,382.23 679.5,390.52 682.7,398.04 685.9,407.32 689.1,406.16 692.3,404.67 695.5,404.01 698.7,397.69 701.9,383.36 705.1,381.57 708.3,382.89 711.5,384.37 714.7,383.8 717.9,391.62 721.1,408.75 724.3,423.08 727.5,415.24 730.7,411.83 733.9,409.56 737.1,417.45 740.3,415.43 743.5,416.11 746.7,415.44 749.9,418.16 753.1,418.31 756.3,417.1 759.5,415.41 762.7,412.14 765.9,419.23 769.1,423.52 772.3,421.56 775.5,407.56 778.7,389.62 781.9,384.69 785.1,382.49 788.3,382.63 791.5,381.14 794.7,379.97 797.9,390.25 801.1,402.3 804.3,416 807.5,417.74 810.7,419.01 813.9,410.87 817.1,410.23 820.3,402.14 823.5,412.7 826.7,418.31 829.9,425.49 833.1,416.66 836.3,401.21 839.5,392.7 842.7,401.25" fill="none" stroke="#6f9ff0" stroke-width="1"/>
<polyline points="4.3,378.5 7.5,379.5 10.7,381 13.9,384.5 17.1,392 20.3,399.5 23.5,407 26.7,408.2 29.9,411.5 33.1,415.99 36.3,421.51 39.5,419.73 42.7,414.04 45.9,407.43 49.1,401.85 52.3,400.86 55.5,400.75 58.7,401.97 61.9,401.12 65.1,397.37 68.3,390.18 71.5,385.83 74.7,385.05 77.9,387.19 81.1,386.04 84.3,383.46 87.5,381.15 90.7,379.37 93.9,378.69 97.1,378.11 100.3,384.99 103.5,394.03 106.7,403.97 109.9,401.15 113.1,393.06 116.3,383.65 119.5,380.07 122.7,381.29 125.9,386.42 129.1,398.1 132.3,410.57 135.5,417.72 138.7,414.82 141.9,406.54 145.1,402.77 148.3,404.33 151.5,409 154.7,409.55 157.9,407.34 161.1,402.75 164.3,396.75 167.5,389.74 170.7,383.81 173.9,380.54 177.1,379.59 180.3,380 183.5,380.83 186.7,381.96 189.9,384.58 193.1,387.5 196.3,392.16 199.5,393.51 202.7,394.14 205.9,389.48 209.1,385.49 212.3,381.14 215.5,379.16 218.7,378.9 221.9,379.35 225.1,382.2 228.3,387.2 231.5,393.91 234.7,399.49 237.9,402.15 241.1,408.37 244.3,415.14 247.5,421.86 250.7,421.81 253.9,418.79 257.1,413.78 260.3,407.44 263.5,401.29 266.7,394.28 269.9,388.11 273.1,382.58 276.3,379.38 279.5,378.18 282.7,378.55 285.9,380.36 289.1,385.41 292.3,392.4 295.5,401.38 298.7,405.88 301.9,406.76 305.1,400.58 308.3,393.59 311.5,386.55 314.7,385.46 317.9,387.64 321.1,390.51 324.3,389.39 327.5,389.07 330.7,388.11 333.9,390.22 337.1,386.26 340.3,383.05 343.5,381.31 346.7,383.58 349.9,387.67 353.1,391.89 356.3,401.77 359.5,413.01 362.7,419.89 365.9,419.95 369.1,413.8 372.3,406.94 375.5,396.01 378.7,388.43 381.9,383.24 385.1,385.45 388.3,392.17 391.5,405.26 394.7,418.7 397.9,427.24 401.1,428.11 404.3,424.02 407.5,419.1 410.7,413.77 413.9,411.57 417.1,408.88 420.3,408.29 423.5,404.09 426.7,399.47 429.9,390.35 433.1,384.94 436.3,383.38 439.5,388.96 442.7,398.08 445.9,409.7 449.1,416.24 452.3,415.49 455.5,407.02 458.7,402.97 461.9,403.78 465.1,411.53 468.3,418.78 471.5,424.54 474.7,426.52 477.9,426.08 481.1,426.58 484.3,426.37 487.5,424.23 490.7,417.82 493.9,411.35 497.1,405.62 500.3,400.31 503.5,392.18 506.7,385.85 509.9,385.25 513.1,393.6 516.3,407.25 519.5,416.23 522.7,417.09 525.9,407.43 529.1,395.94 532.3,385.97 535.5,382.26 538.7,383.97 541.9,391.55 545.1,398.68 548.3,405.77 551.5,407.48 554.7,408.49 557.9,404.79 561.1,401.61 564.3,396.07 567.5,393.73 570.7,392.6 573.9,399.39 577.1,408.68 580.3,415.75 583.5,416.64 586.7,415.69 589.9,418.83 593.1,423.18 596.3,423.53 599.5,417.68 602.7,408.19 605.9,398.83 609.1,392.09 612.3,388.26 615.5,386.64 618.7,385.34 621.9,386.88 625.1,391.95 628.3,401.92 631.5,408.37 634.7,409.24 637.9,401.02 641.1,394.49 644.3,391.88 647.5,398.78 650.7,400.95 653.9,397.98 657.1,387.38 660.3,381.44 663.5,379.33 666.7,380.14 669.9,379.16 673.1,379.33 676.3,380.03 679.5,384.57 682.7,390.26 685.9,398.63 689.1,403.84 692.3,406.05 695.5,404.95 698.7,402.13 701.9,395.02 705.1,387.54 708.3,382.6 711.5,382.94 714.7,383.69 717.9,386.6 721.1,394.72 724.3,407.82 727.5,415.69 730.7,416.72 733.9,412.21 737.1,412.95 740.3,414.15 743.5,416.33 746.7,415.66 749.9,416.57 753.1,417.3 756.3,417.86 759.5,416.94 762.7,414.89 765.9,415.6 769.1,418.3 772.3,421.44 775.5,417.55 778.7,406.25 781.9,393.96 785.1,385.6 788.3,383.27 791.5,382.09 794.7,381.25 797.9,383.79 801.1,390.84 804.3,402.85 807.5,412.01 810.7,417.58 813.9,415.87 817.1,413.37 820.3,407.75 823.5,408.36 826.7,411.05 829.9,418.83 833.1,420.15 836.3,414.45 839.5,403.52 842.7,398.39" fill="none" stroke="#ff2020" stroke-width="1"/>
</g>
<!-- header -->
<path d="M6.3,8.6 L12.2,8.6 L9.25,12.2 Z" fill="#000"/>
<text x="15.8" y="12.8" fill="#000" stroke="#000" stroke-width="0.1" font-size="8.2" text-anchor="start" textLength="43.3" lengthAdjust="spacingAndGlyphs">XAUUSD,H4</text>
<text x="64.1" y="12.8" fill="#000" stroke="#000" stroke-width="0.1" font-size="8.2" text-anchor="start" textLength="25.7" lengthAdjust="spacingAndGlyphs">4070.50</text>
<text x="92.9" y="12.8" fill="#000" stroke="#000" stroke-width="0.1" font-size="8.2" text-anchor="start" textLength="25.7" lengthAdjust="spacingAndGlyphs">4077.56</text>
<text x="121.6" y="12.8" fill="#000" stroke="#000" stroke-width="0.1" font-size="8.2" text-anchor="start" textLength="25.7" lengthAdjust="spacingAndGlyphs">4049.44</text>
<text x="150.4" y="12.8" fill="#000" stroke="#000" stroke-width="0.1" font-size="8.2" text-anchor="start" textLength="26.2" lengthAdjust="spacingAndGlyphs">4050.06</text>
<line x1="986" y1="26.2" x2="987.8" y2="26.2" stroke="#202020" stroke-width="1"/>
<text x="990.3" y="29.3" fill="#000" stroke="#000" stroke-width="0.1" font-size="8.2" text-anchor="start" textLength="26.4" lengthAdjust="spacingAndGlyphs">4373.10</text>
<line x1="986" y1="52.4" x2="987.8" y2="52.4" stroke="#202020" stroke-width="1"/>
<text x="990.3" y="55.25" fill="#000" stroke="#000" stroke-width="0.1" font-size="8.2" text-anchor="start" textLength="26.4" lengthAdjust="spacingAndGlyphs">4321.95</text>
<line x1="986" y1="78.5" x2="987.8" y2="78.5" stroke="#202020" stroke-width="1"/>
<text x="990.3" y="81.95" fill="#000" stroke="#000" stroke-width="0.1" font-size="8.2" text-anchor="start" textLength="26.4" lengthAdjust="spacingAndGlyphs">4270.80</text>
<line x1="986" y1="104.8" x2="987.8" y2="104.8" stroke="#202020" stroke-width="1"/>
<text x="990.3" y="108.3" fill="#000" stroke="#000" stroke-width="0.1" font-size="8.2" text-anchor="start" textLength="26.4" lengthAdjust="spacingAndGlyphs">4219.65</text>
<line x1="986" y1="131.3" x2="987.8" y2="131.3" stroke="#202020" stroke-width="1"/>
<text x="990.3" y="134.75" fill="#000" stroke="#000" stroke-width="0.1" font-size="8.2" text-anchor="start" textLength="26.4" lengthAdjust="spacingAndGlyphs">4166.95</text>
<line x1="986" y1="158" x2="987.8" y2="158" stroke="#202020" stroke-width="1"/>
<text x="990.3" y="160.75" fill="#000" stroke="#000" stroke-width="0.1" font-size="8.2" text-anchor="start" textLength="26.4" lengthAdjust="spacingAndGlyphs">4115.80</text>
<line x1="986" y1="184.2" x2="987.8" y2="184.2" stroke="#202020" stroke-width="1"/>
<text x="990.3" y="186.95" fill="#000" stroke="#000" stroke-width="0.1" font-size="8.2" text-anchor="start" textLength="26.4" lengthAdjust="spacingAndGlyphs">4064.65</text>
<line x1="986" y1="210.6" x2="987.8" y2="210.6" stroke="#202020" stroke-width="1"/>
<text x="990.3" y="213.7" fill="#000" stroke="#000" stroke-width="0.1" font-size="8.2" text-anchor="start" textLength="26.4" lengthAdjust="spacingAndGlyphs">4013.50</text>
<line x1="986" y1="237" x2="987.8" y2="237" stroke="#202020" stroke-width="1"/>
<text x="990.3" y="240.1" fill="#000" stroke="#000" stroke-width="0.1" font-size="8.2" text-anchor="start" textLength="26.4" lengthAdjust="spacingAndGlyphs">3962.35</text>
<line x1="986" y1="263.5" x2="987.8" y2="263.5" stroke="#202020" stroke-width="1"/>
<text x="990.3" y="266.95" fill="#000" stroke="#000" stroke-width="0.1" font-size="8.2" text-anchor="start" textLength="26.4" lengthAdjust="spacingAndGlyphs">3909.65</text>
<line x1="986" y1="290.2" x2="987.8" y2="290.2" stroke="#202020" stroke-width="1"/>
<text x="990.3" y="292.95" fill="#000" stroke="#000" stroke-width="0.1" font-size="8.2" text-anchor="start" textLength="26.4" lengthAdjust="spacingAndGlyphs">3858.50</text>
<line x1="986" y1="316.45" x2="987.8" y2="316.45" stroke="#202020" stroke-width="1"/>
<text x="990.3" y="319.55" fill="#000" stroke="#000" stroke-width="0.1" font-size="8.2" text-anchor="start" textLength="26.4" lengthAdjust="spacingAndGlyphs">3807.35</text>
<line x1="986" y1="342.9" x2="987.8" y2="342.9" stroke="#202020" stroke-width="1"/>
<text x="990.3" y="346.05" fill="#000" stroke="#000" stroke-width="0.1" font-size="8.2" text-anchor="start" textLength="26.4" lengthAdjust="spacingAndGlyphs">3756.20</text>
<line x1="986" y1="369.4" x2="987.8" y2="369.4" stroke="#202020" stroke-width="1"/>
<text x="990.3" y="372.25" fill="#000" stroke="#000" stroke-width="0.1" font-size="8.2" text-anchor="start" textLength="26.4" lengthAdjust="spacingAndGlyphs">3705.05</text>
<rect x="987.2" y="96.9" width="32.7" height="8.8" fill="#dc143c"/>
<text x="990.2" y="104.65" fill="#fff" stroke="#fff" stroke-width="0.1" font-size="8.2" text-anchor="start" textLength="26.6" lengthAdjust="spacingAndGlyphs">4224.75</text>
<rect x="987.2" y="160.95" width="32.7" height="8.8" fill="#dc143c"/>
<text x="990.2" y="168.15" fill="#fff" stroke="#fff" stroke-width="0.1" font-size="8.2" text-anchor="start" textLength="26.6" lengthAdjust="spacingAndGlyphs">4100.60</text>
<rect x="987.2" y="187.05" width="32.7" height="8.55" fill="#000000"/>
<text x="990.2" y="194.6" fill="#fff" stroke="#fff" stroke-width="0.1" font-size="8.2" text-anchor="start" textLength="26.6" lengthAdjust="spacingAndGlyphs">4050.06</text>
<rect x="987.2" y="211.0" width="32.7" height="8.8" fill="#3cb371"/>
<text x="990.2" y="218.75" fill="#fff" stroke="#fff" stroke-width="0.1" font-size="8.2" text-anchor="start" textLength="26.6" lengthAdjust="spacingAndGlyphs">4001.97</text>
<text x="988.9" y="382.2" fill="#000" stroke="#000" stroke-width="0.1" font-size="8.2" text-anchor="start" textLength="11.1" lengthAdjust="spacingAndGlyphs">100</text>
<text x="988.7" y="390.09999999999997" fill="#000" stroke="#000" stroke-width="0.1" font-size="8.2" text-anchor="start" textLength="7.4" lengthAdjust="spacingAndGlyphs">80</text>
<text x="988.5" y="426.09999999999997" fill="#000" stroke="#000" stroke-width="0.1" font-size="8.2" text-anchor="start" textLength="7.4" lengthAdjust="spacingAndGlyphs">20</text>
<text x="989.3" y="433.4" fill="#000" stroke="#000" stroke-width="0.1" font-size="8.2" text-anchor="start" textLength="3.7" lengthAdjust="spacingAndGlyphs">0</text>
<line x1="4.3" y1="436.2" x2="4.3" y2="438.8" stroke="#000" stroke-width="0.9"/>
<text x="3.1" y="445.8" fill="#000" stroke="#000" stroke-width="0.1" font-size="8.2" text-anchor="start" textLength="41.57" lengthAdjust="spacingAndGlyphs">23 Sep 2025</text>
<line x1="55.5" y1="436.2" x2="55.5" y2="438.8" stroke="#000" stroke-width="0.9"/>
<text x="54.3" y="445.8" fill="#000" stroke="#000" stroke-width="0.1" font-size="8.2" text-anchor="start" textLength="43.61" lengthAdjust="spacingAndGlyphs">26 Sep 00:00</text>
<line x1="106.7" y1="436.2" x2="106.7" y2="438.8" stroke="#000" stroke-width="0.9"/>
<text x="105.5" y="445.8" fill="#000" stroke="#000" stroke-width="0.1" font-size="8.2" text-anchor="start" textLength="43.61" lengthAdjust="spacingAndGlyphs">30 Sep 16:00</text>
<line x1="157.9" y1="436.2" x2="157.9" y2="438.8" stroke="#000" stroke-width="0.9"/>
<text x="156.7" y="445.8" fill="#000" stroke="#000" stroke-width="0.1" font-size="8.2" text-anchor="start" textLength="37.9" lengthAdjust="spacingAndGlyphs">3 Oct 08:00</text>
<line x1="209.1" y1="436.2" x2="209.1" y2="438.8" stroke="#000" stroke-width="0.9"/>
<text x="207.9" y="445.8" fill="#000" stroke="#000" stroke-width="0.1" font-size="8.2" text-anchor="start" textLength="37.9" lengthAdjust="spacingAndGlyphs">8 Oct 00:00</text>
<line x1="260.3" y1="436.2" x2="260.3" y2="438.8" stroke="#000" stroke-width="0.9"/>
<text x="259.1" y="445.8" fill="#000" stroke="#000" stroke-width="0.1" font-size="8.2" text-anchor="start" textLength="41.97" lengthAdjust="spacingAndGlyphs">10 Oct 16:00</text>
<line x1="311.5" y1="436.2" x2="311.5" y2="438.8" stroke="#000" stroke-width="0.9"/>
<text x="310.3" y="445.8" fill="#000" stroke="#000" stroke-width="0.1" font-size="8.2" text-anchor="start" textLength="41.97" lengthAdjust="spacingAndGlyphs">15 Oct 08:00</text>
<line x1="362.7" y1="436.2" x2="362.7" y2="438.8" stroke="#000" stroke-width="0.9"/>
<text x="361.5" y="445.8" fill="#000" stroke="#000" stroke-width="0.1" font-size="8.2" text-anchor="start" textLength="41.97" lengthAdjust="spacingAndGlyphs">20 Oct 00:00</text>
<line x1="413.9" y1="436.2" x2="413.9" y2="438.8" stroke="#000" stroke-width="0.9"/>
<text x="412.7" y="445.8" fill="#000" stroke="#000" stroke-width="0.1" font-size="8.2" text-anchor="start" textLength="41.97" lengthAdjust="spacingAndGlyphs">22 Oct 16:00</text>
<line x1="465.1" y1="436.2" x2="465.1" y2="438.8" stroke="#000" stroke-width="0.9"/>
<text x="463.9" y="445.8" fill="#000" stroke="#000" stroke-width="0.1" font-size="8.2" text-anchor="start" textLength="41.97" lengthAdjust="spacingAndGlyphs">27 Oct 08:00</text>
<line x1="516.3" y1="436.2" x2="516.3" y2="438.8" stroke="#000" stroke-width="0.9"/>
<text x="515.1" y="445.8" fill="#000" stroke="#000" stroke-width="0.1" font-size="8.2" text-anchor="start" textLength="41.97" lengthAdjust="spacingAndGlyphs">30 Oct 00:00</text>
<line x1="567.5" y1="436.2" x2="567.5" y2="438.8" stroke="#000" stroke-width="0.9"/>
<text x="566.3" y="445.8" fill="#000" stroke="#000" stroke-width="0.1" font-size="8.2" text-anchor="start" textLength="39.52" lengthAdjust="spacingAndGlyphs">3 Nov 16:00</text>
<line x1="618.7" y1="436.2" x2="618.7" y2="438.8" stroke="#000" stroke-width="0.9"/>
<text x="617.5" y="445.8" fill="#000" stroke="#000" stroke-width="0.1" font-size="8.2" text-anchor="start" textLength="39.52" lengthAdjust="spacingAndGlyphs">6 Nov 08:00</text>
<line x1="669.9" y1="436.2" x2="669.9" y2="438.8" stroke="#000" stroke-width="0.9"/>
<text x="668.7" y="445.8" fill="#000" stroke="#000" stroke-width="0.1" font-size="8.2" text-anchor="start" textLength="43.6" lengthAdjust="spacingAndGlyphs">11 Nov 00:00</text>
<line x1="721.1" y1="436.2" x2="721.1" y2="438.8" stroke="#000" stroke-width="0.9"/>
<text x="719.9" y="445.8" fill="#000" stroke="#000" stroke-width="0.1" font-size="8.2" text-anchor="start" textLength="43.6" lengthAdjust="spacingAndGlyphs">13 Nov 16:00</text>
<line x1="772.3" y1="436.2" x2="772.3" y2="438.8" stroke="#000" stroke-width="0.9"/>
<text x="771.1" y="445.8" fill="#000" stroke="#000" stroke-width="0.1" font-size="8.2" text-anchor="start" textLength="43.6" lengthAdjust="spacingAndGlyphs">18 Nov 08:00</text>
<line x1="823.5" y1="436.2" x2="823.5" y2="438.8" stroke="#000" stroke-width="0.9"/>
<text x="822.3" y="445.8" fill="#000" stroke="#000" stroke-width="0.1" font-size="8.2" text-anchor="start" textLength="43.6" lengthAdjust="spacingAndGlyphs">21 Nov 00:00</text>
</svg>
</body></html>
